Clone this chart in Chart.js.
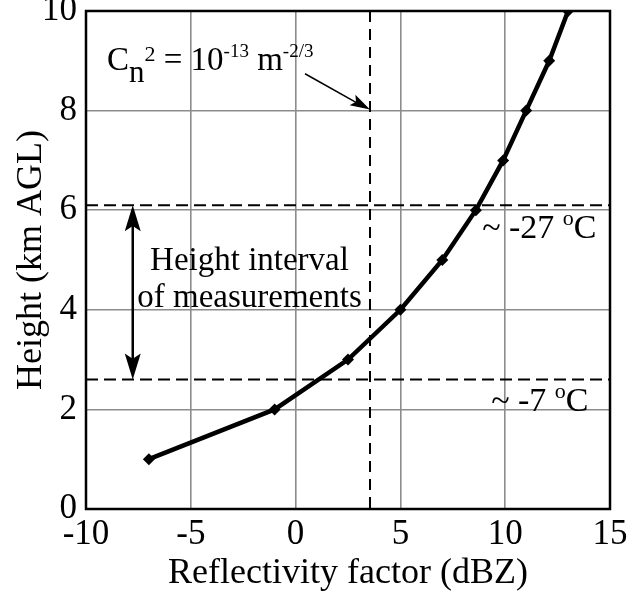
<!DOCTYPE html>
<html>
<head>
<meta charset="utf-8">
<script src="https://cdn.jsdelivr.net/npm/chart.js@4/dist/chart.umd.min.js"></script>
<style>
  html, body { margin: 0; padding: 0; background: #fff; }
  canvas { display: block; }
</style>
</head>
<body>
<canvas id="profile" width="633" height="592"></canvas>
<script>
'use strict';
// reflectivity (dBZ) vs height (km AGL)
var reflectivity = [-7, -1, 2.5, 5, 7, 8.6, 9.9, 11, 12.1, 13];
var heights = [1, 2, 3, 4, 5, 6, 7, 8, 9, 10];
var xTicks = [-10, -5, 0, 5, 10, 15];
var yTicks = [0, 2, 4, 6, 8, 10];

// reference lines
var cn2Reflectivity = 3.55;      // dBZ where Cn^2 = 1e-13
var topLevel = 6.1;              // ~ -27 C
var bottomLevel = 2.6;           // ~ -7 C

var serif = '"Liberation Serif", "Times New Roman", serif';

var points = [];
for (var i = 0; i < reflectivity.length; i++) {
    points.push({x: reflectivity[i], y: heights[i]});
}

// draw runs of text (normal / sub / superscript) one after another
function drawRuns(ctx, runs, x, y) {
    var cx = x;
    for (var i = 0; i < runs.length; i++) {
        var r = runs[i];
        ctx.font = r.size + 'px ' + serif;
        ctx.fillText(r.t, cx, y + (r.dy || 0));
        cx += ctx.measureText(r.t).width;
    }
}

function arrowHead(ctx, x, y, angle, len, half) {
    ctx.save();
    ctx.translate(x, y);
    ctx.rotate(angle);
    ctx.beginPath();
    ctx.moveTo(0, 0);
    ctx.lineTo(-len, -half);
    ctx.lineTo(-len * 0.8, 0);
    ctx.lineTo(-len, half);
    ctx.closePath();
    ctx.fill();
    ctx.restore();
}

var extras = {
    id: 'extras',
    beforeDatasetsDraw: function (chart) {
        var ctx = chart.ctx, a = chart.chartArea;
        var sx = chart.scales.x, sy = chart.scales.y;
        ctx.save();
        ctx.strokeStyle = '#000';
        ctx.lineWidth = 2;
        ctx.setLineDash([11, 7]);
        var px = sx.getPixelForValue(cn2Reflectivity);
        ctx.beginPath();
        ctx.moveTo(px, a.top);
        ctx.lineTo(px, a.bottom);
        ctx.stroke();
        ctx.setLineDash([12, 6]);
        [topLevel, bottomLevel].forEach(function (h) {
            var py = sy.getPixelForValue(h);
            ctx.beginPath();
            ctx.moveTo(a.left, py);
            ctx.lineTo(a.right, py);
            ctx.stroke();
        });
        ctx.restore();
    },
    afterDraw: function (chart) {
        var ctx = chart.ctx, a = chart.chartArea;
        var sx = chart.scales.x, sy = chart.scales.y;
        ctx.save();
        ctx.fillStyle = '#000';
        ctx.strokeStyle = '#000';

        // frame
        ctx.lineWidth = 2.5;
        ctx.strokeRect(a.left, a.top, a.right - a.left, a.bottom - a.top);

        // arrow to the Cn^2 line
        var x0 = sx.getPixelForValue(0.45), y0 = sy.getPixelForValue(8.74);
        var x1 = sx.getPixelForValue(cn2Reflectivity), y1 = sy.getPixelForValue(8.02);
        ctx.lineWidth = 1.5;
        ctx.beginPath();
        ctx.moveTo(x0, y0);
        ctx.lineTo(x1 - 10, y1 - 5);
        ctx.stroke();
        arrowHead(ctx, x1, y1, Math.atan2(y1 - y0, x1 - x0), 20, 6);

        // double arrow for the measurement interval
        var ax = sx.getPixelForValue(-7.77);
        var atop = sy.getPixelForValue(topLevel), abot = sy.getPixelForValue(bottomLevel);
        ctx.lineWidth = 2.5;
        ctx.beginPath();
        ctx.moveTo(ax, atop + 15);
        ctx.lineTo(ax, abot - 15);
        ctx.stroke();
        arrowHead(ctx, ax, atop, -Math.PI / 2, 26, 8);
        arrowHead(ctx, ax, abot, Math.PI / 2, 26, 8);

        ctx.textBaseline = 'alphabetic';
        ctx.textAlign = 'left';
        drawRuns(ctx, [
            {t: 'C', size: 33},
            {t: 'n', size: 31, dy: 12},
            {t: '2', size: 22, dy: -9},
            {t: ' = 10', size: 33},
            {t: '-13', size: 19, dy: -13},
            {t: ' m', size: 33},
            {t: '-2/3', size: 19, dy: -13}
        ], sx.getPixelForValue(-9.0), sy.getPixelForValue(8.82));

        drawRuns(ctx, [
            {t: '~ -27 ', size: 34},
            {t: 'o', size: 22, dy: -13},
            {t: 'C', size: 34}
        ], sx.getPixelForValue(8.9), sy.getPixelForValue(5.44));

        drawRuns(ctx, [
            {t: '~ -7 ', size: 34},
            {t: 'o', size: 22, dy: -13},
            {t: 'C', size: 34}
        ], sx.getPixelForValue(9.33), sy.getPixelForValue(1.96));

        ctx.textAlign = 'center';
        ctx.font = '33px ' + serif;
        var tx = sx.getPixelForValue(-2.2);
        ctx.fillText('Height interval', tx, sy.getPixelForValue(4.8));
        ctx.fillText('of measurements', tx, sy.getPixelForValue(4.06));
        ctx.restore();
    }
};

var ctx = document.getElementById('profile').getContext('2d');
var chart = new Chart(ctx, {
    type: 'line',
    data: {
        datasets: [{
            data: points,
            borderColor: '#000',
            backgroundColor: '#000',
            borderWidth: 4.5,
            tension: 0,
            pointStyle: 'rectRot',
            pointRadius: 6,
            pointBackgroundColor: '#000',
            pointBorderColor: '#000',
            pointBorderWidth: 0
        }]
    },
    options: {
        responsive: false,
        animation: false,
        devicePixelRatio: 1,
        layout: {padding: {top: 11, right: 23, bottom: 0, left: 0}},
        plugins: {legend: {display: false}, tooltip: {enabled: false}},
        scales: {
            x: {
                type: 'linear',
                min: xTicks[0],
                max: xTicks[xTicks.length - 1],
                afterBuildTicks: function (s) { s.ticks = xTicks.map(function (v) { return {value: v}; }); },
                afterFit: function (s) { s.height = 83; s.paddingLeft = 0; s.paddingRight = 0; },
                grid: {color: 'rgb(140,140,140)', lineWidth: 1.6, drawTicks: false},
                border: {display: false},
                ticks: {color: '#000', padding: 5, font: {family: serif, size: 35}},
                title: {display: true, text: 'Reflectivity factor (dBZ)', color: '#000',
                        font: {family: serif, size: 36, lineHeight: 1}, padding: {top: 0, bottom: 0}}
            },
            y: {
                type: 'linear',
                min: yTicks[0],
                max: yTicks[yTicks.length - 1],
                afterBuildTicks: function (s) { s.ticks = yTicks.map(function (v) { return {value: v}; }); },
                afterFit: function (s) { s.width = 86; s.paddingTop = 0; s.paddingBottom = 0; },
                grid: {color: 'rgb(140,140,140)', lineWidth: 1.6, drawTicks: false},
                border: {display: false},
                ticks: {color: '#000', padding: 9, font: {family: serif, size: 35}},
                title: {display: true, text: 'Height (km AGL)', color: '#000',
                        font: {family: serif, size: 36, lineHeight: 1}, padding: {top: 14, bottom: 0}}
            }
        }
    },
    plugins: [extras]
});
</script>
</body>
</html>
